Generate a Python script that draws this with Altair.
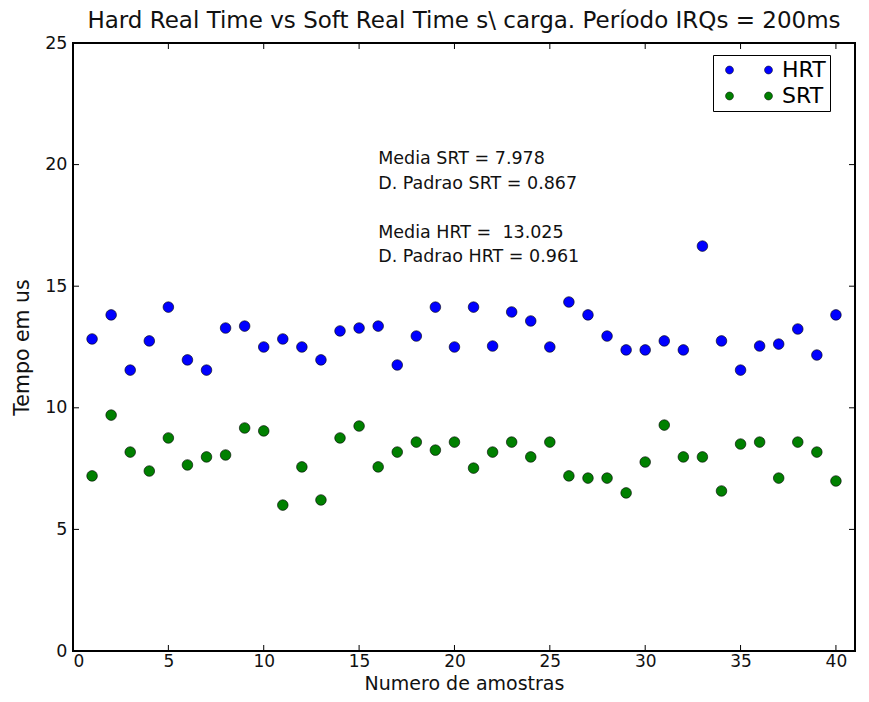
import altair as alt
import pandas as pd

samples = list(range(1, 41))
hrt = [12.83, 13.82, 11.55, 12.75, 14.14, 11.97, 11.55, 13.28, 13.36, 12.50,
       12.83, 12.50, 11.97, 13.16, 13.28, 13.36, 11.76, 12.95, 14.14, 12.50,
       14.14, 12.54, 13.94, 13.57, 12.50, 14.35, 13.82, 12.95, 12.38, 12.38,
       12.75, 12.38, 16.65, 12.75, 11.55, 12.54, 12.62, 13.24, 12.17, 13.82]
srt = [7.20, 9.70, 8.18, 7.40, 8.76, 7.65, 7.98, 8.06, 9.17, 9.05,
       6.00, 7.57, 6.21, 8.76, 9.25, 7.57, 8.18, 8.59, 8.26, 8.59,
       7.52, 8.18, 8.59, 7.98, 8.59, 7.20, 7.11, 7.11, 6.50, 7.77,
       9.29, 7.98, 7.98, 6.58, 8.51, 8.59, 7.11, 8.59, 8.18, 6.99]
series_names = ["HRT", "SRT"]
series_colors = ["#0000ff", "#008000"]
x_ticks = [0, 5, 10, 15, 20, 25, 30, 35, 40]
y_ticks = [0, 5, 10, 15, 20, 25]
note_srt = ["Media SRT = 7.978", "D. Padrao SRT = 0.867"]
note_hrt = ["Media HRT =\u00a0 13.025", "D. Padrao HRT = 0.961"]
note_x = 16
note_y = 20.6

W, H = 782, 608
FONT = "DejaVu Sans"

df = pd.DataFrame(
    {"amostra": samples * 2,
     "tempo": hrt + srt,
     "serie": ["HRT"] * len(hrt) + ["SRT"] * len(srt)}
)

xscale = alt.Scale(domain=[0, 41], nice=False, zero=False)
yscale = alt.Scale(domain=[0, 25], nice=False, zero=False)

# legend symbol: two small circles side by side (matplotlib numpoints=2 look)
two_dots = ("M -5.875 0 A 1 1 0 1 1 -3.875 0 A 1 1 0 1 1 -5.875 0 Z "
            "M 3.875 0 A 1 1 0 1 1 5.875 0 A 1 1 0 1 1 3.875 0 Z")

points = alt.Chart(df).mark_point(
    filled=True, shape="circle", size=113, stroke="black", strokeWidth=0.6, opacity=1
).encode(
    x=alt.X("amostra:Q", scale=xscale, title="Numero de amostras",
            axis=alt.Axis(values=x_ticks, tickSize=0, grid=False, domain=False,
                          labelFontSize=17, labelPadding=2, labelColor="#111111",
                          titleFontSize=19, titleFontWeight="normal",
                          titleBaseline="alphabetic", titleY=38.5,
                          titleColor="#111111", labelFont=FONT, titleFont=FONT)),
    y=alt.Y("tempo:Q", scale=yscale, title="Tempo em us",
            axis=alt.Axis(values=y_ticks, tickSize=0, grid=False, domain=False,
                          labelFontSize=17.5, labelPadding=6, labelColor="#111111",
                          titleFontSize=20.5, titleFontWeight="normal", titlePadding=12,
                          titleColor="#111111", labelFont=FONT, titleFont=FONT)),
    color=alt.Color("serie:N", scale=alt.Scale(domain=series_names, range=series_colors),
                    legend=alt.Legend(title=None, orient="none", legendX=640, legendY=12,
                                      strokeColor="black", fillColor="white",
                                      padding=4, labelFontSize=22, labelFont=FONT,
                                      labelColor="black", symbolSize=64,
                                      symbolStrokeColor="black", symbolStrokeWidth=0.5,
                                      symbolType=two_dots, rowPadding=4,
                                      symbolOffset=21, labelOffset=22)),
)

xt = pd.DataFrame({"v": x_ticks})
yt = pd.DataFrame({"v": y_ticks})

xtick_bottom = alt.Chart(xt).mark_rule(color="black", strokeWidth=1).encode(
    x=alt.X("v:Q", scale=xscale), y=alt.value(H), y2=alt.value(H - 6))
xtick_top = alt.Chart(xt).mark_rule(color="black", strokeWidth=1).encode(
    x=alt.X("v:Q", scale=xscale), y=alt.value(0), y2=alt.value(6))
ytick_left = alt.Chart(yt).mark_rule(color="black", strokeWidth=1).encode(
    y=alt.Y("v:Q", scale=yscale), x=alt.value(0), x2=alt.value(6))
ytick_right = alt.Chart(yt).mark_rule(color="black", strokeWidth=1).encode(
    y=alt.Y("v:Q", scale=yscale), x=alt.value(W), x2=alt.value(W - 6))

note_df = pd.DataFrame({"x": [note_x], "y": [note_y]})
note1 = alt.Chart(note_df).mark_text(
    align="left", baseline="top", fontSize=17.5, font=FONT, color="#111111",
    lineHeight=24.5, text=note_srt
).encode(x=alt.X("x:Q", scale=xscale), y=alt.Y("y:Q", scale=yscale))
note2 = alt.Chart(note_df).mark_text(
    align="left", baseline="top", fontSize=17.5, font=FONT, color="#111111",
    lineHeight=24.5, text=note_hrt, dy=73.5
).encode(x=alt.X("x:Q", scale=xscale), y=alt.Y("y:Q", scale=yscale))

chart = alt.layer(points, xtick_bottom, xtick_top, ytick_left, ytick_right,
                  note1, note2).properties(
    width=W, height=H,
    background="white",
    title=alt.Title("Hard Real Time vs Soft Real Time s\\ carga. Período IRQs = 200ms",
                    fontSize=23, fontWeight="normal", font=FONT, color="#111111",
                    anchor="middle", offset=1),
    autosize=alt.AutoSizeParams(type="none"),
    padding={"left": 65, "top": 35, "right": 6, "bottom": 43},
).configure_view(stroke="black", strokeWidth=2)

chart.save("out.html", embed_options={"renderer": "svg", "actions": False})
